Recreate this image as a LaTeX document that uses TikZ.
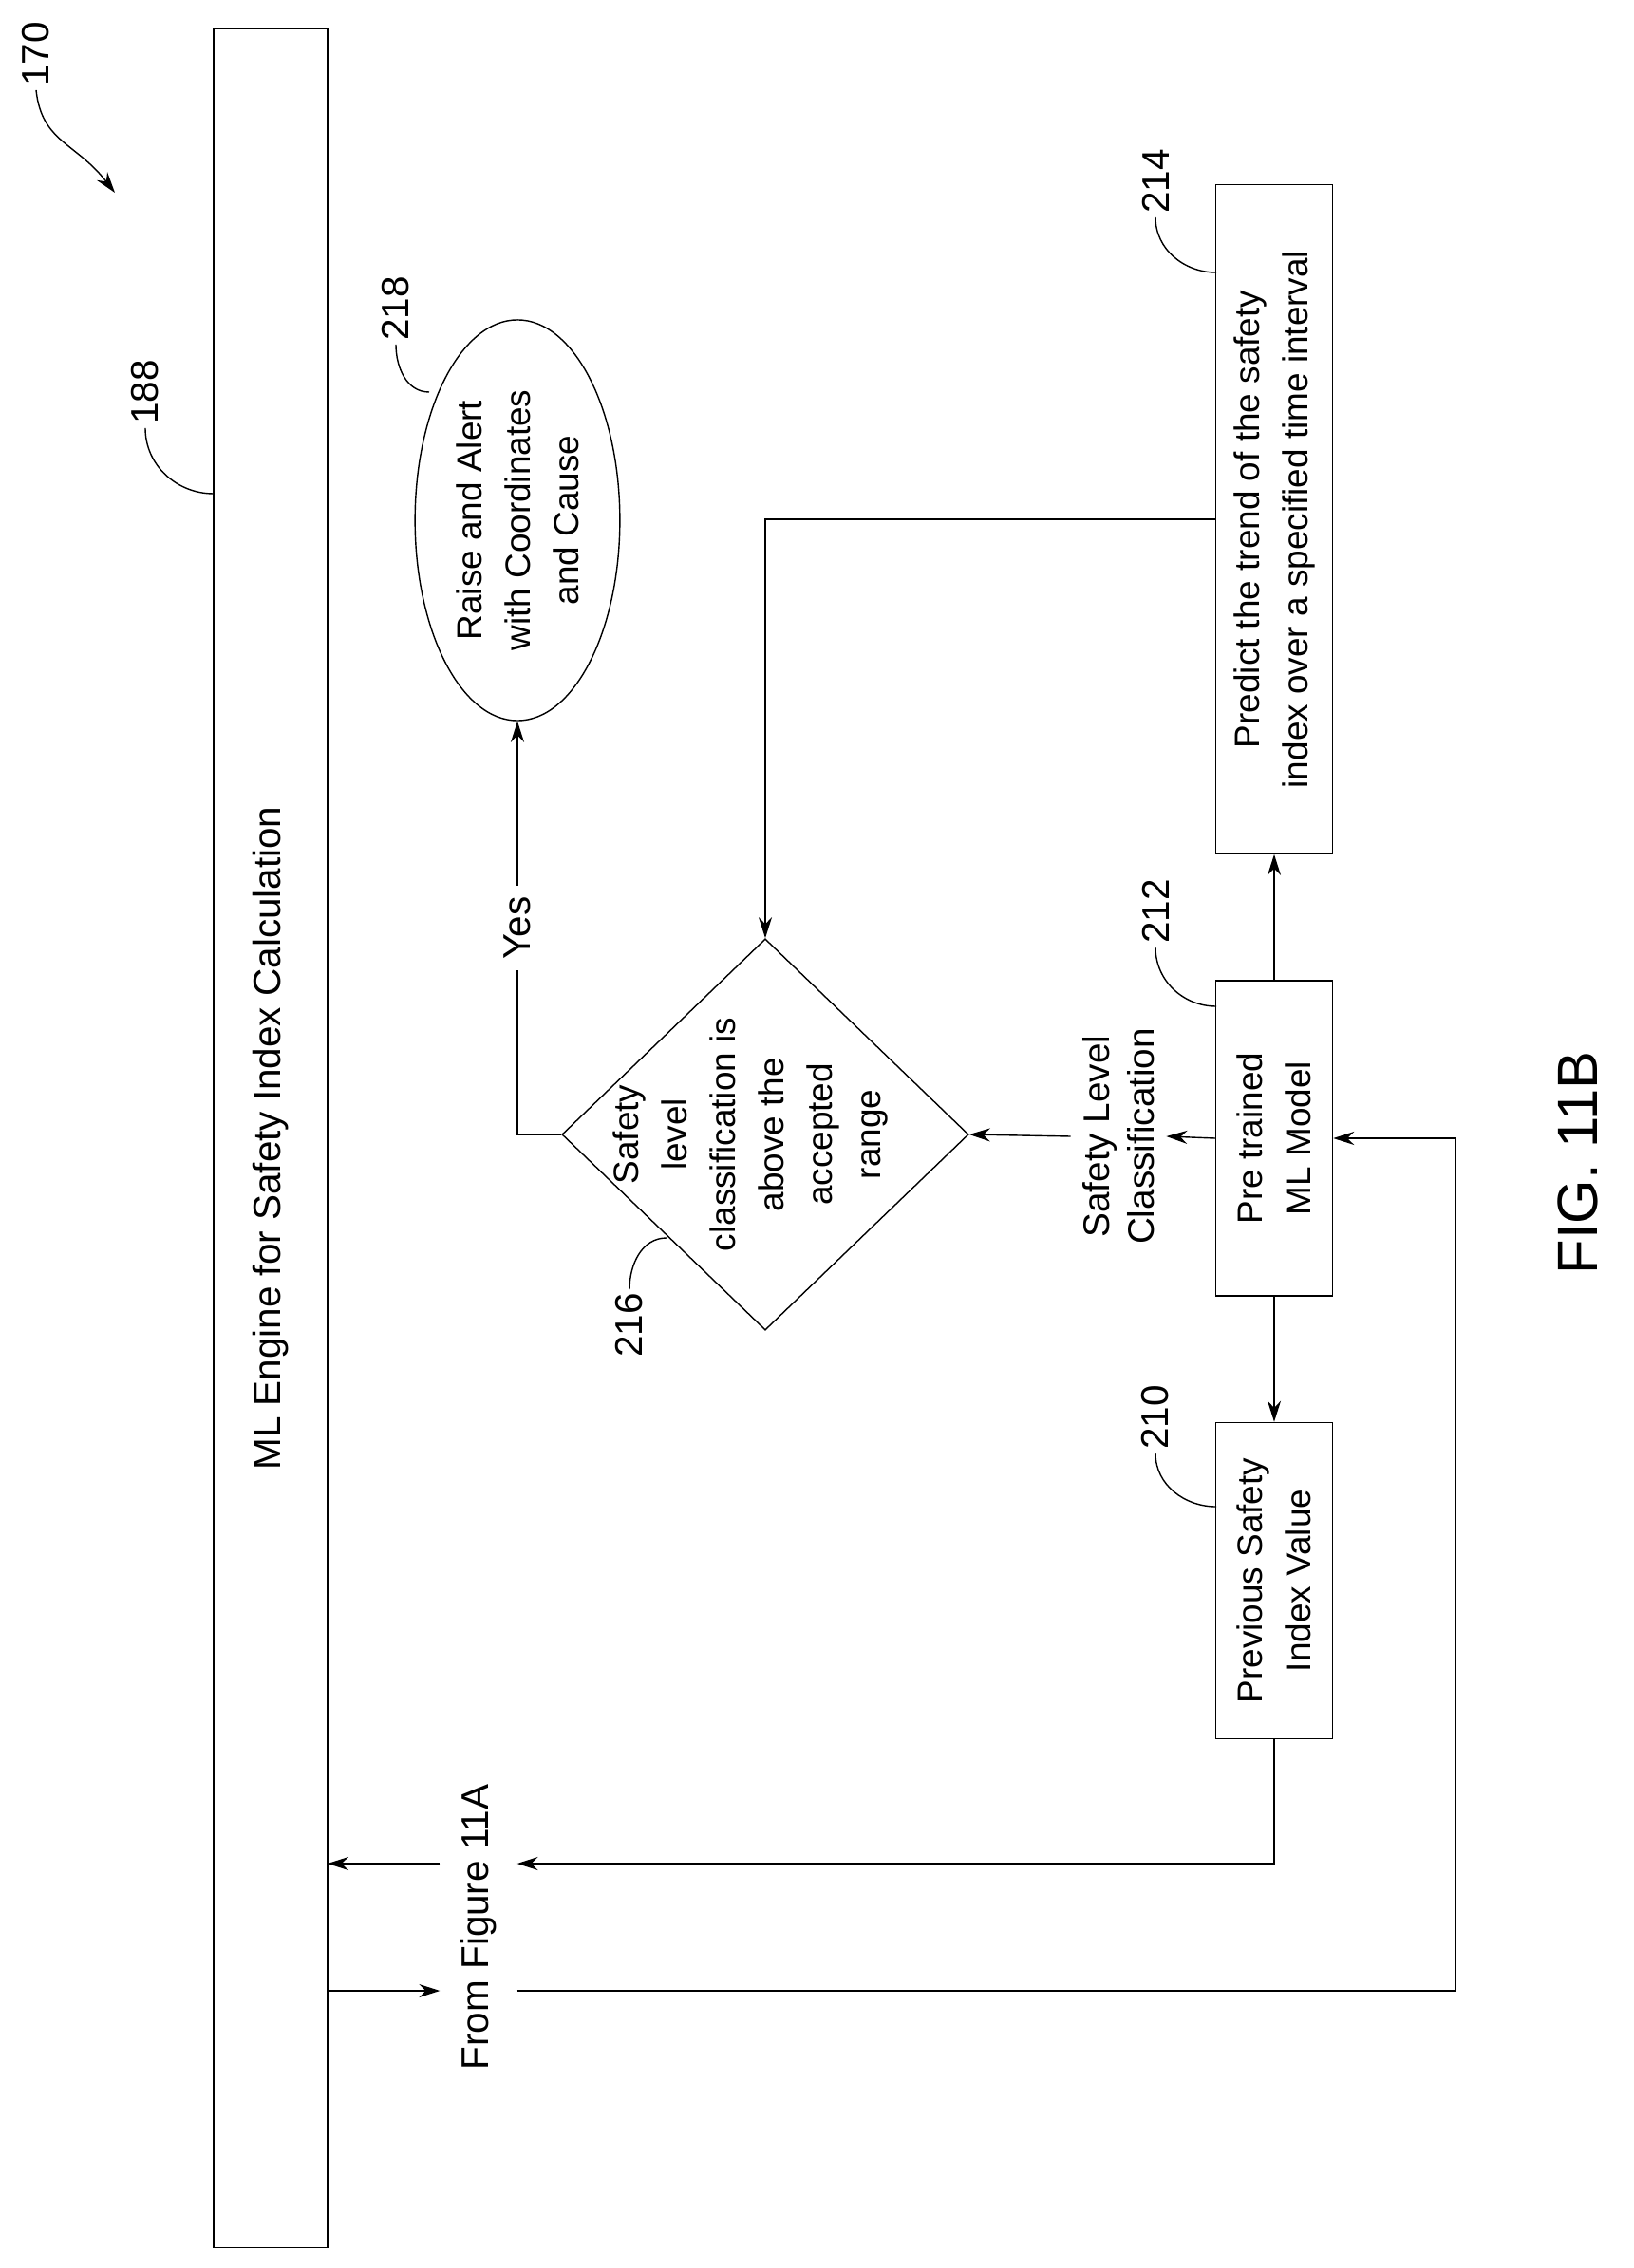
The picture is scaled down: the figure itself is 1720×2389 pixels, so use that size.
\documentclass[tikz,border=0pt]{standalone}
\usepackage{fontspec}
\setmainfont{Liberation Sans}
\usetikzlibrary{shapes.geometric}
\usetikzlibrary{arrows.meta}
\tikzset{
    x=0.01cm,
    y=-0.01cm,
    every node/.append style={
        font=\fontsize{10.5}{14.5}\selectfont,
        align=center,
        rotate=90
    },
    block/.style={
        draw,
        thin,
        minimum height=1.23cm
    },
    num/.style={
        font=\fontsize{11.5}{14}\selectfont,
        inner sep=1pt
    },
    flow/.style={
        draw,
        thin,
        -{Stealth[length=2.2mm,width=1.4mm]}
    }
}

\begin{document}
\begin{tikzpicture}
    \useasboundingbox (0,0) rectangle (1720,2389);

    \node[block, minimum width=23.36cm, minimum height=1.2cm,
          font=\fontsize{11.5}{14}\selectfont] (eng) at (285,1199) {ML Engine for Safety Index Calculation};
    \node[block, minimum width=7.04cm] (p214) at (1342,547) {Predict the trend of the safety\\index over a specified time interval};
    \node[block, minimum width=3.32cm] (p212) at (1342,1199) {Pre trained\\ML Model};
    \node[block, minimum width=3.33cm] (p210) at (1342,1665) {Previous Safety\\Index Value};
    \node[draw, thin, diamond, inner sep=0pt, minimum width=4.12cm, minimum height=4.28cm] (d216) at (806,1195) {};
    \node (d216txt) at (790,1195) {Safety\\level\\classification is\\above the\\accepted\\range};
    \node[draw, thin, ellipse, minimum width=4.17cm, minimum height=2.03cm] (e218) at (545,548) {Raise and Alert\\with Coordinates\\and Cause};

    % labels
    \node[fill=white, font=\fontsize{11}{13.5}\selectfont] (cls) at (1178,1197) {Safety Level\\Classification};
    \node[fill=white, inner sep=6pt, font=\fontsize{11.5}{14}\selectfont] (fig11a) at (504,2030) {From Figure 11A};
    \node[num] (n170) at (38,57) {170};
    \node[num] (n188) at (153,413) {188};
    \node[num] (n218) at (417,325) {218};
    \node[num] (n214) at (1217,191) {214};
    \node[num] (n212) at (1217,960) {212};
    \node[num] (n210) at (1217,1493) {210};
    \node[num] (n216) at (663,1396) {216};
    \node[font=\fontsize{17}{20}\selectfont] (fig) at (1662,1225) {FIG. 11B};

    \coordinate (in1) at (345,1963);
    \coordinate (in2) at (345,2097);
    \coordinate (c3) at (1533,1199);
    \coordinate (a170) at (121,203);
    \coordinate (a188) at (225,520);
    \coordinate (a218) at (452,413);
    \coordinate (a214) at (1281,287);
    \coordinate (a212) at (1281,1060);
    \coordinate (a210) at (1281,1587);
    \coordinate (a216) at (702,1304);

    \draw[flow] (p212.east) -- (p214.west);
    \draw[flow] (p212.west) -- (p210.east);
    \draw[flow] (p212.north) -- (cls.south);
    \draw[flow] (cls.north) -- (d216.south);
    \draw[flow] (p214.north) -| (d216.east);
    \draw[flow] (d216.north) -| (e218.west)
        node[pos=0.75, fill=white, font=\fontsize{11.5}{14}\selectfont] {Yes};
    \draw[flow] (p210.west) |- (fig11a.south |- in1);
    \draw[flow] (fig11a.north |- in1) -- (in1);
    \draw[flow] (in2) -- (fig11a.north |- in2);
    \draw[flow] (fig11a.south |- in2) -| (c3) -- (p212.south);

    % leaders
    \draw[thin, -{Stealth[length=2.2mm,width=1.4mm]}] (n170.west) .. controls (44,150) and (80,150) .. (a170);
    \draw[thin] (n188.west) to[out=-90,in=180] (a188);
    \draw[thin] (n218.west) to[out=-90,in=180] (a218);
    \draw[thin] (n214.west) to[out=-90,in=180] (a214);
    \draw[thin] (n212.west) to[out=-90,in=180] (a212);
    \draw[thin] (n210.west) to[out=-90,in=180] (a210);
    \draw[thin] (n216.east) to[out=90,in=180] (a216);
\end{tikzpicture}
\end{document}
